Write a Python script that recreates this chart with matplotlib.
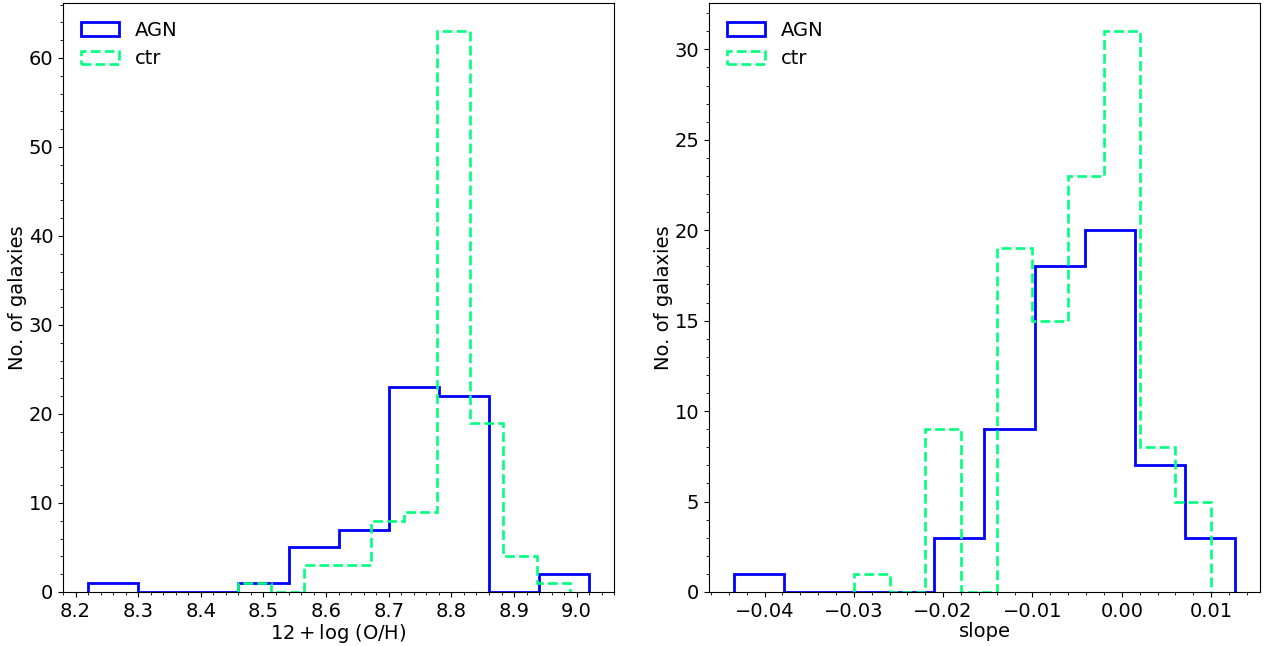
import numpy as np
import matplotlib
matplotlib.use("Agg")
import matplotlib.pyplot as plt
from matplotlib.ticker import AutoMinorLocator

# ---- data (bin edges and counts) ----
oh_agn_edges = [8.22, 8.30, 8.38, 8.46, 8.54, 8.62, 8.70, 8.78, 8.86, 8.94, 9.02]
oh_agn_counts = [1, 0, 0, 1, 5, 7, 23, 22, 0, 2]

oh_ctr_edges = [8.459, 8.512, 8.565, 8.618, 8.671, 8.724, 8.777, 8.830, 8.883, 8.936, 8.989]
oh_ctr_counts = [1, 0, 3, 3, 8, 9, 63, 19, 4, 1]

slope_agn_edges = [-0.0434, -0.0378, -0.0322, -0.0266, -0.0210, -0.0154,
                   -0.0097, -0.0041, 0.0015, 0.0071, 0.0127]
slope_agn_counts = [1, 0, 0, 0, 3, 9, 18, 20, 7, 3]

slope_ctr_edges = [-0.030, -0.026, -0.022, -0.018, -0.014, -0.010,
                   -0.006, -0.002, 0.002, 0.006, 0.010]
slope_ctr_counts = [1, 0, 9, 0, 19, 15, 23, 31, 8, 5]

labels = ["AGN", "ctr"]
xlabels = [r"$12 + \log\,(\mathrm{O/H})$", "slope"]
ylabel = "No. of galaxies"

fig = plt.figure(figsize=(12.66, 6.46), dpi=100)
fig.subplots_adjust(left=0.0498, right=0.9955, bottom=0.0836, top=0.995, wspace=0.172)
axes = fig.subplots(1, 2)

panels = [
    (oh_agn_edges, oh_agn_counts, oh_ctr_edges, oh_ctr_counts),
    (slope_agn_edges, slope_agn_counts, slope_ctr_edges, slope_ctr_counts),
]

for ax, (ae, ac, ce, cc), xl in zip(axes, panels, xlabels):
    ae = np.asarray(ae); ce = np.asarray(ce)
    ax.hist(ae[:-1], bins=ae, weights=ac, histtype="step", color="#0000ff",
            linewidth=2.0, label=labels[0])
    ax.hist(ce[:-1], bins=ce, weights=cc, histtype="step", color="#00ff7f",
            linewidth=1.9, linestyle="--", label=labels[1])
    ax.set_xlabel(xl, fontsize=14, labelpad=1)
    ax.set_ylabel(ylabel, fontsize=14, labelpad=1)
    ax.tick_params(axis="both", which="major", labelsize=14)
    ax.xaxis.set_minor_locator(AutoMinorLocator())
    ax.yaxis.set_minor_locator(AutoMinorLocator())
    ax.legend(loc="upper left", frameon=False, fontsize=14)

fig.savefig("out.png", dpi=100)
